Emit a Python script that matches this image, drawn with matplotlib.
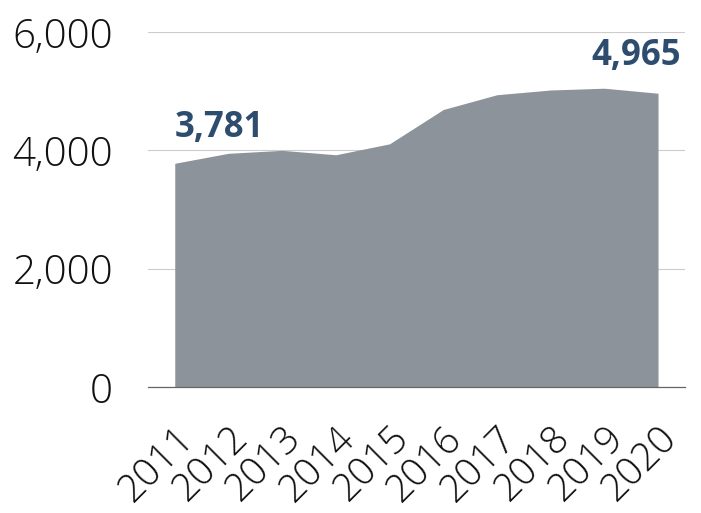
import numpy as np
import matplotlib
matplotlib.use('Agg')
import matplotlib.pyplot as plt
from matplotlib.ticker import FuncFormatter

# data
years = ['2011', '2012', '2013', '2014', '2015', '2016', '2017', '2018', '2019', '2020']
values = [3781, 3950, 4000, 3925, 4110, 4690, 4940, 5020, 5050, 4965]
yticks = [0, 2000, 4000, 6000]

area_col = '#8C939A'
label_col = '#2E4D6E'

fig = plt.figure(figsize=(7.01, 5.13), dpi=100)
ax = fig.add_axes([0.211, 0.2456, 0.766, 0.692])

x = np.arange(len(years))
ax.fill_between(x, 0, values, color=area_col, linewidth=0, zorder=2)

ax.set_xlim(-0.5, len(years) - 0.5)
ax.set_ylim(0, 6000)
ax.set_yticks(yticks)
ax.yaxis.set_major_formatter(FuncFormatter(lambda v, p: '{:,.0f}'.format(v)))
ax.grid(axis='y', color='#CCCCCC', linewidth=0.8, zorder=0)
ax.set_axisbelow(True)

for s in ['top', 'right', 'left']:
    ax.spines[s].set_visible(False)
ax.spines['bottom'].set_color('#666666')
ax.spines['bottom'].set_linewidth(0.9)
ax.spines['bottom'].set_zorder(3)

ax.tick_params(axis='y', length=0, pad=25, labelsize=29, labelcolor='#111111')
ax.set_xticks(x)
ax.set_xticklabels(years, rotation=45, ha='right', rotation_mode='anchor',
                   fontsize=28, color='#111111')
ax.tick_params(axis='x', length=0, pad=23)
for t in ax.get_yticklabels() + ax.get_xticklabels():
    t.set_fontfamily('Open Sans')
    t.set_fontweight('light')

# first and last value labels
ax.text(x[0], values[0] + 290, '{:,}'.format(values[0]), ha='left', va='bottom',
        fontsize=25, fontweight='bold', color=label_col, family='Open Sans')
ax.text(x[-1] + 0.42, values[-1] + 330, '{:,}'.format(values[-1]), ha='right', va='bottom',
        fontsize=25, fontweight='bold', color=label_col, family='Open Sans')

fig.savefig('out.png', dpi=100)
